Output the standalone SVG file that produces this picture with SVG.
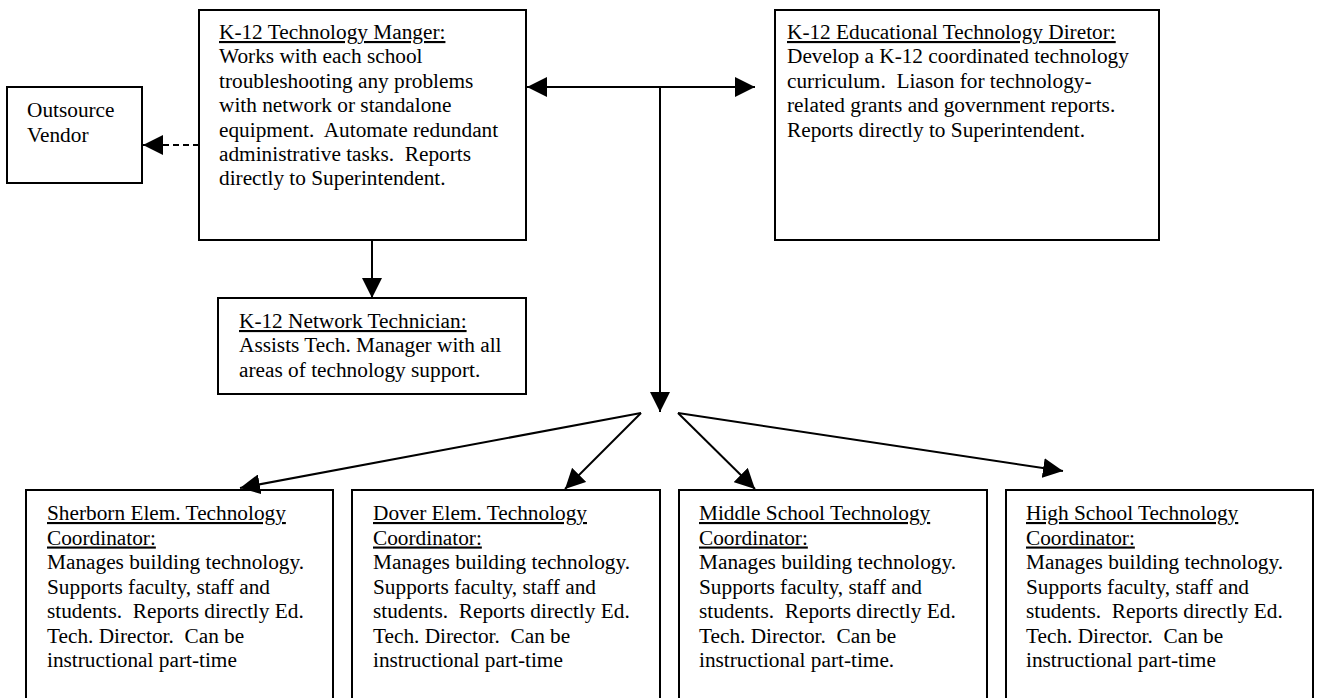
<svg xmlns="http://www.w3.org/2000/svg" width="1319" height="698" viewBox="0 0 1319 698">
<style>
.box{fill:#fff;stroke:#000;stroke-width:2}
text{font-family:"Liberation Serif","Times New Roman",serif;font-size:21.3px;fill:#000}
.t{text-decoration:underline}
.c{fill:none;stroke:#000;stroke-width:2}
.d{stroke-dasharray:6 4}
</style>
<defs>
<marker id="ah" markerUnits="userSpaceOnUse" markerWidth="20" markerHeight="20" refX="20" refY="10" orient="auto-start-reverse" viewBox="0 0 20 20">
<path d="M0,0 L20,10 L0,20 z" fill="#000"/>
</marker>
</defs>
<rect width="1319" height="698" fill="#fff"/>
<g id="outsource">
<rect class="box" x="7" y="87" width="135" height="96"/>
<text x="27" y="117">Outsource</text>
<text x="27" y="142">Vendor</text>
</g>
<g id="manager">
<rect class="box" x="199" y="10" width="327" height="230"/>
<text x="219" y="39" class="t">K-12 Technology Manger:</text>
<text x="219" y="63.4">Works with each school</text>
<text x="219" y="87.8">troubleshooting any problems</text>
<text x="219" y="112.2">with network or standalone</text>
<text x="219" y="136.6" xml:space="preserve">equipment.  Automate redundant</text>
<text x="219" y="161" xml:space="preserve">administrative tasks.  Reports</text>
<text x="219" y="185.4">directly to Superintendent.</text>
</g>
<g id="director">
<rect class="box" x="775" y="10" width="384" height="230"/>
<text x="787" y="39" class="t">K-12 Educational Technology Diretor:</text>
<text x="787" y="63.4">Develop a K-12 coordinated technology</text>
<text x="787" y="87.8" xml:space="preserve">curriculum.  Liason for technology-</text>
<text x="787" y="112.2">related grants and government reports.</text>
<text x="787" y="136.6">Reports directly to Superintendent.</text>
</g>
<g id="technician">
<rect class="box" x="218" y="298" width="308" height="96"/>
<text x="239" y="328" class="t">K-12 Network Technician:</text>
<text x="239" y="352.4">Assists Tech. Manager with all</text>
<text x="239" y="376.8">areas of technology support.</text>
</g>
<g id="sherborn">
<rect class="box" x="26" y="490" width="307" height="220"/>
<text x="47" y="520" class="t">Sherborn Elem. Technology</text>
<text x="47" y="544.5" class="t">Coordinator:</text>
<text x="47" y="569">Manages building technology.</text>
<text x="47" y="593.5">Supports faculty, staff and</text>
<text x="47" y="618" xml:space="preserve">students.  Reports directly Ed.</text>
<text x="47" y="642.5" xml:space="preserve">Tech. Director.  Can be</text>
<text x="47" y="667">instructional part-time</text>
</g>
<g id="dover">
<rect class="box" x="352" y="490" width="308" height="220"/>
<text x="373" y="520" class="t">Dover Elem. Technology</text>
<text x="373" y="544.5" class="t">Coordinator:</text>
<text x="373" y="569">Manages building technology.</text>
<text x="373" y="593.5">Supports faculty, staff and</text>
<text x="373" y="618" xml:space="preserve">students.  Reports directly Ed.</text>
<text x="373" y="642.5" xml:space="preserve">Tech. Director.  Can be</text>
<text x="373" y="667">instructional part-time</text>
</g>
<g id="middle">
<rect class="box" x="679" y="490" width="308" height="220"/>
<text x="699" y="520" class="t">Middle School Technology</text>
<text x="699" y="544.5" class="t">Coordinator:</text>
<text x="699" y="569">Manages building technology.</text>
<text x="699" y="593.5">Supports faculty, staff and</text>
<text x="699" y="618" xml:space="preserve">students.  Reports directly Ed.</text>
<text x="699" y="642.5" xml:space="preserve">Tech. Director.  Can be</text>
<text x="699" y="667">instructional part-time.</text>
</g>
<g id="high">
<rect class="box" x="1006" y="490" width="307" height="220"/>
<text x="1026" y="520" class="t">High School Technology</text>
<text x="1026" y="544.5" class="t">Coordinator:</text>
<text x="1026" y="569">Manages building technology.</text>
<text x="1026" y="593.5">Supports faculty, staff and</text>
<text x="1026" y="618" xml:space="preserve">students.  Reports directly Ed.</text>
<text x="1026" y="642.5" xml:space="preserve">Tech. Director.  Can be</text>
<text x="1026" y="667">instructional part-time</text>
</g>
<g id="connectors">
<line class="c d" x1="199" y1="145" x2="143" y2="145" marker-end="url(#ah)"/>
<line class="c" x1="372" y1="240" x2="372" y2="298" marker-end="url(#ah)"/>
<line class="c" x1="527" y1="87" x2="755" y2="87" marker-start="url(#ah)" marker-end="url(#ah)"/>
<line class="c" x1="660" y1="87" x2="660" y2="412" marker-end="url(#ah)"/>
<line class="c" x1="641" y1="413" x2="240" y2="488" marker-end="url(#ah)"/>
<line class="c" x1="641" y1="413" x2="565" y2="489" marker-end="url(#ah)"/>
<line class="c" x1="678" y1="413" x2="755" y2="489" marker-end="url(#ah)"/>
<line class="c" x1="678" y1="413" x2="1063" y2="471" marker-end="url(#ah)"/>
</g>
</svg>
